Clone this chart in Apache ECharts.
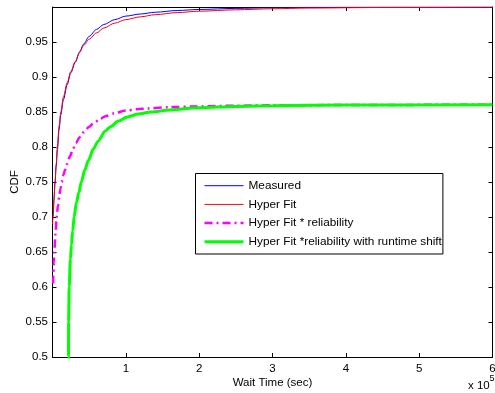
<!DOCTYPE html>
<html>
<head>
<meta charset="utf-8">
<script src="https://cdn.jsdelivr.net/npm/echarts@6/dist/echarts.min.js"></script>
<style>
html,body{margin:0;padding:0;background:#fff;}
#c{width:495px;height:393px;}
</style>
</head>
<body>
<div id="c"></div>
<script>
// x values in units of 1e5 sec (axis shows "x 10^5")
var seriesNames = ['Measured', 'Hyper Fit', 'Hyper Fit * reliability', 'Hyper Fit *reliability with runtime shift'];

var measuredX = [0, 0.01, 0.02, 0.034, 0.05, 0.066, 0.09, 0.113, 0.15, 0.2, 0.25, 0.31, 0.37, 0.424, 0.5, 0.6, 0.7, 0.85, 1.0, 1.2, 1.4, 1.7, 2.0, 2.5, 3.0, 3.5, 4.5, 6.0];
var measuredY = [0.70, 0.705, 0.725, 0.748, 0.772, 0.795, 0.825, 0.846, 0.868, 0.889, 0.906, 0.921, 0.936, 0.947, 0.958, 0.968, 0.975, 0.982, 0.987, 0.990, 0.9925, 0.995, 0.9965, 0.998, 0.999, 0.9995, 0.9998, 0.9999];

var hyperX = [0, 0.01, 0.02, 0.034, 0.05, 0.066, 0.09, 0.113, 0.15, 0.2, 0.25, 0.31, 0.37, 0.424, 0.5, 0.6, 0.7, 0.85, 1.0, 1.2, 1.4, 1.7, 2.0, 2.5, 3.0, 3.5, 4.5, 6.0];
var hyperY = [0.69, 0.70, 0.725, 0.75, 0.775, 0.80, 0.83, 0.85, 0.872, 0.892, 0.908, 0.922, 0.935, 0.945, 0.954, 0.963, 0.970, 0.977, 0.982, 0.986, 0.989, 0.992, 0.994, 0.996, 0.9975, 0.9985, 0.9993, 0.9997];

var relX = [0.008, 0.011, 0.018, 0.025, 0.04, 0.057, 0.075, 0.09, 0.11, 0.126, 0.15, 0.17, 0.2, 0.24, 0.277, 0.32, 0.37, 0.424, 0.5, 0.561, 0.65, 0.722, 0.836, 1.0, 1.15, 1.3, 1.6, 2.0, 2.5, 3.0, 4.0, 6.0];
var relY = [0.605, 0.615, 0.635, 0.65, 0.675, 0.70, 0.717, 0.728, 0.741, 0.75, 0.76, 0.767, 0.776, 0.787, 0.797, 0.806, 0.814, 0.821, 0.829, 0.834, 0.840, 0.844, 0.848, 0.852, 0.854, 0.855, 0.857, 0.858, 0.859, 0.8595, 0.86, 0.8605];

var shiftX = [0.216, 0.2175, 0.22, 0.227, 0.245, 0.258, 0.275, 0.295, 0.325, 0.36, 0.393, 0.44, 0.49, 0.556, 0.62, 0.72, 0.79, 0.9, 1.02, 1.17, 1.34, 1.6, 2.0, 2.5, 3.0, 4.0, 6.0];
var shiftY = [0.48, 0.50, 0.55, 0.60, 0.64, 0.66, 0.68, 0.70, 0.72, 0.735, 0.75, 0.767, 0.781, 0.797, 0.808, 0.823, 0.829, 0.837, 0.843, 0.847, 0.850, 0.853, 0.856, 0.858, 0.859, 0.86, 0.8605];

var xTicks = [0, 1, 2, 3, 4, 5, 6];
var yTicks = [0.5, 0.55, 0.6, 0.65, 0.7, 0.75, 0.8, 0.85, 0.9, 0.95];

function pts(xs, ys) { return xs.map(function (x, i) { return [x, ys[i]]; }); }

var font = 'Liberation Sans, Arial, Helvetica, sans-serif';
var chart = echarts.init(document.getElementById('c'), null, {renderer: 'canvas'});

var axisLine = {show: true, onZero: false, lineStyle: {color: '#000', width: 1}};
var tickStyle = {show: true, inside: true, length: 4, lineStyle: {color: '#000', width: 1}};

chart.setOption({
  animation: false,
  backgroundColor: '#fff',
  grid: {left: 52.5, right: 2.5, top: 7, bottom: 36, containLabel: false, outerBoundsMode: 'none'},
  xAxis: [{
    type: 'value', min: 0, max: 6, interval: 1, position: 'bottom',
    axisLine: axisLine, axisTick: tickStyle, splitLine: {show: false},
    axisLabel: {color: '#000', fontFamily: font, fontSize: 11.5, margin: 6,
      formatter: function (v) { return (v === 0) ? '' : String(v); }},
    name: 'Wait Time (sec)', nameLocation: 'middle', nameGap: 20, nameMoveOverlap: false,
    nameTextStyle: {color: '#000', fontFamily: font, fontSize: 11.5}
  }, {
    type: 'value', min: 0, max: 6, interval: 1, position: 'top',
    axisLine: axisLine, axisTick: tickStyle, splitLine: {show: false},
    axisLabel: {show: false}
  }],
  yAxis: [{
    type: 'value', min: 0.5, max: 1.0, interval: 0.05, position: 'left',
    axisLine: axisLine, axisTick: tickStyle, splitLine: {show: false},
    axisLabel: {color: '#000', fontFamily: font, fontSize: 11.5, margin: 4.5,
      formatter: function (v) { return v > 0.99 ? '' : String(+v.toFixed(2)); }},
    name: 'CDF', nameLocation: 'middle', nameGap: 32, nameRotate: 90, nameMoveOverlap: false,
    nameTextStyle: {color: '#000', fontFamily: font, fontSize: 11.5}
  }, {
    type: 'value', min: 0.5, max: 1.0, interval: 0.05, position: 'right',
    axisLine: axisLine, axisTick: tickStyle, splitLine: {show: false},
    axisLabel: {show: false}
  }],
  legend: {
    orient: 'vertical', left: 195.5, top: 173.5,
    padding: [6.2, 1, 6.2, 7.5],
    itemWidth: 39, itemHeight: 14, itemGap: 6.7,
    itemStyle: {opacity: 0},
    backgroundColor: '#fff', borderColor: '#000', borderWidth: 1, borderRadius: 0,
    textStyle: {color: '#000', fontFamily: font, fontSize: 11.8},
    data: [
      {name: seriesNames[0], lineStyle: {width: 1}},
      {name: seriesNames[1], lineStyle: {width: 1}},
      {name: seriesNames[2], lineStyle: {width: 2.5}},
      {name: seriesNames[3], lineStyle: {width: 3}}
    ]
  },
  graphic: [
    {type: 'text', left: 468, top: 380, style: {text: 'x 10', fill: '#000', font: '11.5px ' + font}},
    {type: 'text', left: 489.5, top: 374, style: {text: '5', fill: '#000', font: '9px ' + font}}
  ],
  series: [
    {name: seriesNames[0], type: 'line', data: pts(measuredX, measuredY), symbol: 'none',
      smooth: 0.3, smoothMonotone: 'x', lineStyle: {color: '#0000ff', width: 1}, itemStyle: {color: '#0000ff'}},
    {name: seriesNames[1], type: 'line', data: pts(hyperX, hyperY), symbol: 'none',
      smooth: 0.3, smoothMonotone: 'x', lineStyle: {color: '#ff0000', width: 1}, itemStyle: {color: '#ff0000'}},
    {name: seriesNames[2], type: 'line', data: pts(relX, relY), symbol: 'none',
      smooth: 0.3, smoothMonotone: 'x', lineStyle: {color: '#ff00ff', width: 2.5, type: [8, 4, 2, 4]}, itemStyle: {color: '#ff00ff'}},
    {name: seriesNames[3], type: 'line', data: pts(shiftX, shiftY), symbol: 'none',
      smooth: 0.3, smoothMonotone: 'x', lineStyle: {color: '#00ff00', width: 3}, itemStyle: {color: '#00ff00'}}
  ]
});
</script>
</body>
</html>
